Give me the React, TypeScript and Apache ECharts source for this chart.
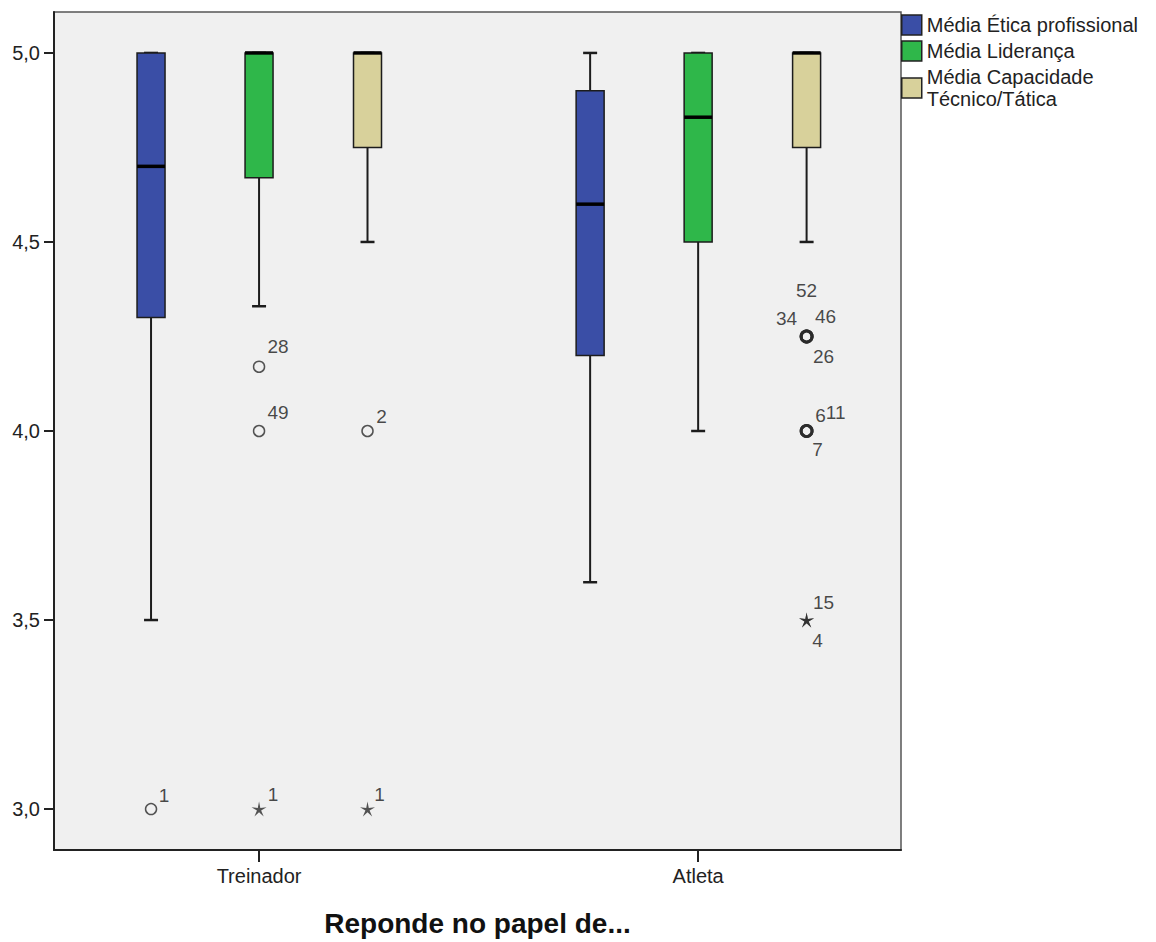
import React, { useEffect, useRef } from 'react';
import * as echarts from 'echarts';

// ---- data ----
const groups = ['Treinador', 'Atleta'];
const seriesNames = ['Média Ética profissional', 'Média Liderança', 'Média Capacidade\nTécnico/Tática'];
const yTicks = [3.0, 3.5, 4.0, 4.5, 5.0];
const xTitle = 'Reponde no papel de...';

// box stats per group: [lower whisker, Q1, median, Q3, upper whisker]
const eticaBoxes = [
  [3.5, 4.3, 4.7, 5.0, 5.0],
  [3.6, 4.2, 4.6, 4.9, 5.0],
];
const liderancaBoxes = [
  [4.33, 4.67, 5.0, 5.0, 5.0],
  [4.0, 4.5, 4.83, 5.0, 5.0],
];
const tecnicoBoxes = [
  [4.5, 4.75, 5.0, 5.0, 5.0],
  [4.5, 4.75, 5.0, 5.0, 5.0],
];

// outliers (circles) and extremes (stars): [group index, value, case id]
const eticaOutliers: [number, number, string][] = [[0, 3.0, '1']];
const eticaExtremes: [number, number, string][] = [];
const liderancaOutliers: [number, number, string][] = [[0, 4.17, '28'], [0, 4.0, '49']];
const liderancaExtremes: [number, number, string][] = [[0, 3.0, '1']];
const tecnicoOutliers: [number, number, string][] = [
  [0, 4.0, '2'],
  [1, 4.25, '52'], [1, 4.25, '34'], [1, 4.25, '46'], [1, 4.25, '26'],
  [1, 4.0, '6'], [1, 4.0, '11'], [1, 4.0, '7'],
];
const tecnicoExtremes: [number, number, string][] = [[0, 3.0, '1'], [1, 3.5, '15'], [1, 3.5, '4']];

// ---- styling ----
const colors = ['#3a4ea6', '#2fb74a', '#d8d19b'];
const seriesShift = [-0.246, 0, 0.247];
const FONT = 'Arial, "Liberation Sans", Helvetica, sans-serif';
const INK = '#222';

// label offsets (px) of case ids around their marker, keyed series|group|case
const labelOffsets: Record<string, [number, number]> = {
  '0|0|1': [13, -14],
  '1|0|28': [19, -20],
  '1|0|49': [19, -19],
  '1|0|1': [14, -15],
  '2|0|2': [14, -15],
  '2|0|1': [12, -15],
  '2|1|52': [0, -46],
  '2|1|34': [-20, -18],
  '2|1|46': [19, -20],
  '2|1|26': [17, 20],
  '2|1|6': [14, -16],
  '2|1|11': [29, -19],
  '2|1|7': [11, 18],
  '2|1|15': [17, -18],
  '2|1|4': [11, 20],
};

const STAR =
  'path://M50,0 L58.2,38.7 L97.6,34.5 L63.3,54.3 L79.4,90.5 L50,64 L20.6,90.5 L36.7,54.3 L2.4,34.5 L41.8,38.7 Z';

const boxesList = [eticaBoxes, liderancaBoxes, tecnicoBoxes];
const outliersList = [eticaOutliers, liderancaOutliers, tecnicoOutliers];
const extremesList = [eticaExtremes, liderancaExtremes, tecnicoExtremes];

const renderBox = (_params: any, api: any) => {
  const x = api.value(0);
  const lo = api.coord([x, api.value(1)]);
  const q1 = api.coord([x, api.value(2)]);
  const md = api.coord([x, api.value(3)]);
  const q3 = api.coord([x, api.value(4)]);
  const hi = api.coord([x, api.value(5)]);
  const cx = lo[0];
  const hw = 14;
  const cw = 7;
  const stroke = '#1c1c1c';
  const color = api.visual('color');
  return {
    type: 'group',
    children: [
      { type: 'line', shape: { x1: cx, y1: q1[1], x2: cx, y2: lo[1] }, style: { stroke, lineWidth: 2 } },
      { type: 'line', shape: { x1: cx - cw, y1: lo[1], x2: cx + cw, y2: lo[1] }, style: { stroke, lineWidth: 2.5 } },
      { type: 'line', shape: { x1: cx, y1: q3[1], x2: cx, y2: hi[1] }, style: { stroke, lineWidth: 2 } },
      { type: 'line', shape: { x1: cx - cw, y1: hi[1], x2: cx + cw, y2: hi[1] }, style: { stroke, lineWidth: 2.5 } },
      {
        type: 'rect',
        shape: { x: cx - hw, y: q3[1], width: 2 * hw, height: q1[1] - q3[1] },
        style: { fill: color, stroke, lineWidth: 1.5 },
      },
      { type: 'line', shape: { x1: cx - hw, y1: md[1], x2: cx + hw, y2: md[1] }, style: { stroke: '#000', lineWidth: 3.5 } },
    ],
  };
};

function pointData(s: number, list: [number, number, string][]) {
  return list.map(([g, v, id]) => {
    const same = list.filter(([g2, v2]) => g2 === g && v2 === v).length;
    return {
      value: [g + 1 + seriesShift[s], v, id],
      itemStyle: { borderWidth: same > 1 ? 2.8 : 1.5 },
      label: { offset: labelOffsets[`${s}|${g}|${id}`] || [12, -15] },
    };
  });
}

export default function App() {
  const ref = useRef<HTMLDivElement>(null);
  useEffect(() => {
    if (!ref.current) return;
    const chart = echarts.init(ref.current, null, { renderer: 'svg' });
    const series: any[] = [];
    seriesNames.forEach((name, s) => {
      series.push({
        name,
        type: 'custom',
        renderItem: renderBox,
        itemStyle: { color: colors[s] },
        encode: { x: 0, y: [1, 2, 3, 4, 5] },
        data: boxesList[s].map((b, g) => [g + 1 + seriesShift[s], ...b]),
        z: 2,
      });
    });
    const labelStyle = {
      show: true,
      position: 'inside',
      formatter: (p: any) => p.value[2],
      color: '#1a1a1a',
      fontSize: 19,
      fontFamily: FONT,
    };
    seriesNames.forEach((_n, s) => {
      series.push({
        name: `outliers-${s}`,
        type: 'scatter',
        symbol: 'circle',
        symbolSize: 11,
        itemStyle: { color: 'rgba(0,0,0,0)', borderColor: '#2a2a2a', borderWidth: 1.5 },
        label: labelStyle,
        data: pointData(s, outliersList[s]),
        z: 3,
      });
      series.push({
        name: `extremes-${s}`,
        type: 'scatter',
        symbol: STAR,
        symbolSize: 15,
        itemStyle: { color: '#2a2a2a' },
        label: labelStyle,
        data: pointData(s, extremesList[s]),
        z: 3,
      });
    });

    chart.setOption({
      animation: false,
      backgroundColor: '#ffffff',
      grid: {
        left: 54,
        top: 12,
        width: 847,
        height: 839,
        show: true,
        backgroundColor: '#f0f0f0',
        borderColor: '#555',
        borderWidth: 1.5,
      },
      legend: {
        orient: 'vertical',
        left: 901,
        top: 14,
        padding: 0,
        itemGap: 4,
        itemWidth: 20,
        itemHeight: 20,
        icon: 'rect',
        selectedMode: false,
        textStyle: { fontSize: 20, fontFamily: FONT, color: INK, lineHeight: 22 },
        data: seriesNames.map((name, s) => ({
          name,
          itemStyle: { color: colors[s], borderColor: '#222', borderWidth: 1.5 },
        })),
      },
      xAxis: {
        type: 'value',
        min: 0.533,
        max: 2.462,
        splitLine: { show: false },
        axisLine: { show: true, lineStyle: { color: INK, width: 2 } },
        axisTick: { show: true, customValues: [1, 2], length: 12, lineStyle: { color: INK, width: 2 } },
        axisLabel: {
          customValues: [1, 2],
          formatter: (v: number) => groups[Math.round(v) - 1] || '',
          fontSize: 20,
          fontFamily: FONT,
          color: INK,
          margin: 16,
        },
        name: xTitle,
        nameLocation: 'middle',
        nameGap: 59,
        nameTextStyle: { fontSize: 28, fontWeight: 'bold', fontFamily: FONT, color: '#111' },
      },
      yAxis: {
        type: 'value',
        min: 2.8917,
        max: 5.1083,
        splitLine: { show: false },
        axisLine: { show: true, lineStyle: { color: INK, width: 2 } },
        axisTick: { show: true, customValues: yTicks, length: 10, lineStyle: { color: INK, width: 2 } },
        axisLabel: {
          customValues: yTicks,
          formatter: (v: number) => v.toFixed(1).replace('.', ','),
          fontSize: 20,
          fontFamily: FONT,
          color: INK,
          margin: 14,
        },
      },
      series,
    });
    return () => chart.dispose();
  }, []);
  return (
    <div
      ref={ref}
      style={{ position: 'fixed', left: 0, top: 0, width: 1156, height: 942, background: '#fff' }}
    />
  );
}
